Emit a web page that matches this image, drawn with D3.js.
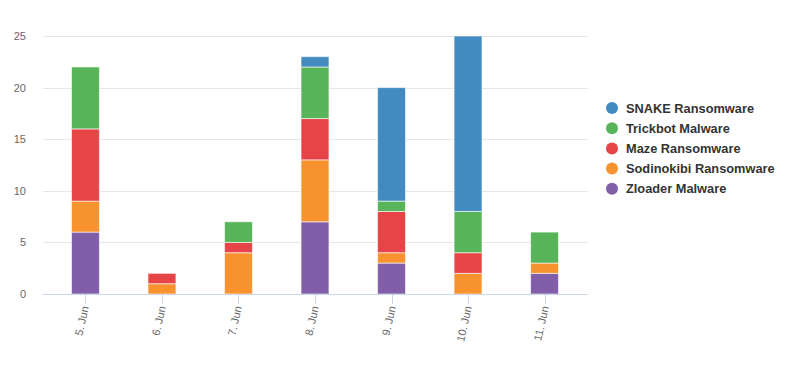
<!DOCTYPE html>
<html>
<head>
<meta charset="utf-8">
<script src="https://cdn.jsdelivr.net/npm/d3@7/dist/d3.min.js"></script>
<style>
	body { margin: 0; background: #fff; }
	svg { display: block; font-family: "Liberation Sans", Arial, sans-serif; }
</style>
</head>
<body>
<svg id="chart" width="800" height="375"></svg>
<script>
var days = ['5. Jun', '6. Jun', '7. Jun', '8. Jun', '9. Jun', '10. Jun', '11. Jun'];
var yTicks = [0, 5, 10, 15, 20, 25];

// bottom to top in the stack
var seriesNames = ['Zloader Malware', 'Sodinokibi Ransomware', 'Maze Ransomware', 'Trickbot Malware', 'SNAKE Ransomware'];
var seriesColors = ['#825ea8', '#f8922f', '#e64446', '#57b458', '#428bc1'];

var zloader    = [6, 0, 0, 7, 3, 0, 2];
var sodinokibi = [3, 1, 4, 6, 1, 2, 1];
var maze       = [7, 1, 1, 4, 4, 2, 0];
var trickbot   = [6, 0, 2, 5, 1, 4, 3];
var snake      = [0, 0, 0, 1, 11, 17, 0];

var seriesValues = [zloader, sodinokibi, maze, trickbot, snake];

var svg = d3.select('#chart');

var plot = { left: 43, right: 588, top: 36, bottom: 294 };

var rows = days.map(function(d, i) {
	var row = { day: d };
	seriesNames.forEach(function(name, s) { row[name] = seriesValues[s][i]; });
	return row;
});

var stacked = d3.stack().keys(seriesNames)(rows);

var x = d3.scaleBand()
	.domain(days)
	.range([47, 583])
	.paddingInner(0.635)
	.paddingOuter(0.32);

var y = d3.scaleLinear()
	.domain([0, 25])
	.range([plot.bottom, plot.top]);

// grid
svg.append('g')
	.selectAll('line')
	.data(yTicks.filter(function(t) { return t > 0; }))
	.join('line')
	.attr('x1', plot.left)
	.attr('x2', plot.right)
	.attr('y1', function(d) { return Math.round(y(d)) + 0.5; })
	.attr('y2', function(d) { return Math.round(y(d)) + 0.5; })
	.style('stroke', '#e6e6e6')
	.style('stroke-width', 1);

// y labels
svg.append('g')
	.selectAll('text')
	.data(yTicks)
	.join('text')
	.attr('x', 26)
	.attr('y', function(d) { return y(d) + 4; })
	.attr('text-anchor', 'end')
	.style('font-size', '11px')
	.style('fill', '#666')
	.text(function(d) { return d; });

// bars
svg.append('g')
	.selectAll('g')
	.data(stacked)
	.join('g')
	.style('fill', function(d, i) { return seriesColors[i]; })
	.selectAll('rect')
	.data(function(d) { return d.filter(function(p) { return p[1] > p[0]; }); })
	.join('rect')
	.attr('x', function(d) { return x(d.data.day); })
	.attr('width', x.bandwidth())
	.attr('y', function(d) { return y(d[1]); })
	.attr('height', function(d) { return y(d[0]) - y(d[1]); })
	.style('stroke', '#fff')
	.style('stroke-opacity', 0.6)
	.style('stroke-width', 1);

// x axis
var axis = svg.append('g');
axis.append('line')
	.attr('x1', plot.left)
	.attr('x2', plot.right)
	.attr('y1', plot.bottom + 0.5)
	.attr('y2', plot.bottom + 0.5)
	.style('stroke', '#ccd6eb');

var ticks = axis.selectAll('g.tick')
	.data(days)
	.join('g')
	.attr('class', 'tick')
	.attr('transform', function(d) { return 'translate(' + Math.round(x(d) + x.bandwidth() / 2) + ',' + plot.bottom + ')'; });

ticks.append('line')
	.attr('x1', 0.5).attr('x2', 0.5)
	.attr('y1', 0).attr('y2', 10)
	.style('stroke', '#ccd6eb');

ticks.append('text')
	.attr('transform', 'translate(4,13) rotate(-77)')
	.attr('text-anchor', 'end')
	.style('font-size', '11px')
	.style('fill', '#666')
	.text(function(d) { return d; });

// legend, top item is the top of the stack
var legendItems = seriesNames.map(function(n, i) { return { name: n, color: seriesColors[i] }; }).reverse();

var legend = svg.append('g')
	.selectAll('g')
	.data(legendItems)
	.join('g')
	.attr('transform', function(d, i) { return 'translate(612,' + (108 + i * 20.2) + ')'; });

legend.append('circle')
	.attr('r', 6)
	.style('fill', function(d) { return d.color; });

legend.append('text')
	.attr('x', 14)
	.attr('y', 4.5)
	.style('font-size', '12.8px')
	.style('font-weight', 'bold')
	.style('fill', '#333')
	.text(function(d) { return d.name; });
</script>
</body>
</html>
